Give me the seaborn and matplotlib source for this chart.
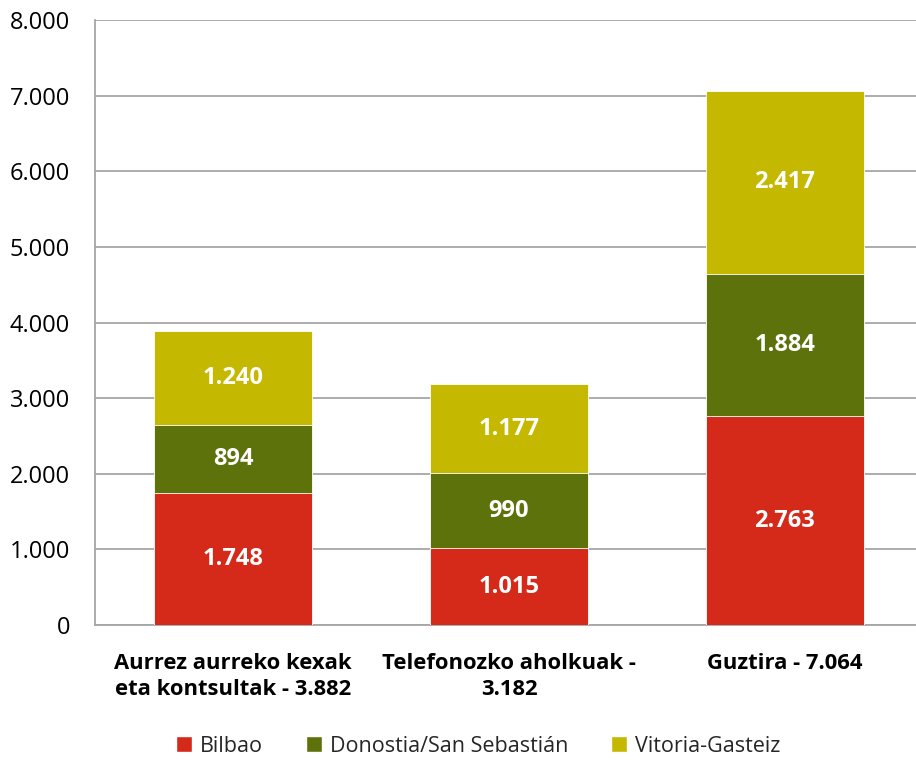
import matplotlib
matplotlib.use('Agg')
import matplotlib.pyplot as plt
import seaborn as sns
import numpy as np
import pandas as pd
from matplotlib.patches import Patch

# data
categories = ['Aurrez aurreko kexak\neta kontsultak - 3.882',
              'Telefonozko aholkuak -\n3.182',
              'Guztira - 7.064']
series = ['Bilbao', 'Donostia/San Sebastián', 'Vitoria-Gasteiz']
bilbao = [1748, 1015, 2763]
donostia = [894, 990, 1884]
vitoria = [1240, 1177, 2417]
colors = ['#D52A1A', '#5E720C', '#C4B900']

sns.set_theme(style='white')
plt.rcParams['font.family'] = ['Open Sans', 'DejaVu Sans']

fig = plt.figure(figsize=(9.16, 7.6), dpi=100)
ax = fig.add_axes([95 / 916, 135 / 760, 821 / 916, 605 / 760])

layers = [bilbao, donostia, vitoria]
cum = np.cumsum(np.array(layers), axis=0)

# draw cumulative bars from top down so the stack shows
for i in reversed(range(3)):
    df = pd.DataFrame({'cat': categories, 'val': cum[i]})
    sns.barplot(data=df, x='cat', y='val', color=colors[i], width=0.57,
                saturation=1, edgecolor='white', linewidth=0.6, ax=ax, zorder=3)

# value labels
for i in range(3):
    for j in range(3):
        base = cum[i - 1][j] if i > 0 else 0
        mid = base + layers[i][j] / 2
        txt = f'{layers[i][j]:,}'.replace(',', '.')
        ax.text(j, mid, txt, ha='center', va='center', color='white',
                fontsize=17, fontweight='bold', zorder=5)

ax.set_ylim(0, 8000)
ax.set_xlim(-0.5, 2.475)
ax.set_yticks(range(0, 8001, 1000))
ax.set_yticklabels([f'{v:,}'.replace(',', '.') if v else '0' for v in range(0, 8001, 1000)],
                   fontsize=17)
ax.set_xticks(range(3))
ax.set_xticklabels(categories, fontsize=15.8, fontweight='bold', linespacing=1.3)
ax.set_xlabel('')
ax.set_ylabel('')
ax.tick_params(axis='both', length=0, colors='black')
ax.tick_params(axis='y', pad=18)
ax.tick_params(axis='x', pad=20)
ax.yaxis.grid(True, color='#A6A6A6', linewidth=1.3, zorder=0)
ax.set_axisbelow(True)
for s in ['top', 'right']:
    ax.spines[s].set_visible(False)
for s in ['left', 'bottom']:
    ax.spines[s].set_color('#A6A6A6')
    ax.spines[s].set_linewidth(1.3)

handles = [Patch(facecolor=c, label=l) for c, l in zip(colors, series)]
fig.legend(handles=handles, loc='center', bbox_to_anchor=(0.522, 14 / 760),
           ncol=3, frameon=False, fontsize=15.5, handlelength=0.75, handleheight=0.75,
           handletextpad=0.35, columnspacing=2.0)

fig.savefig('out.png', dpi=100, facecolor='white')
